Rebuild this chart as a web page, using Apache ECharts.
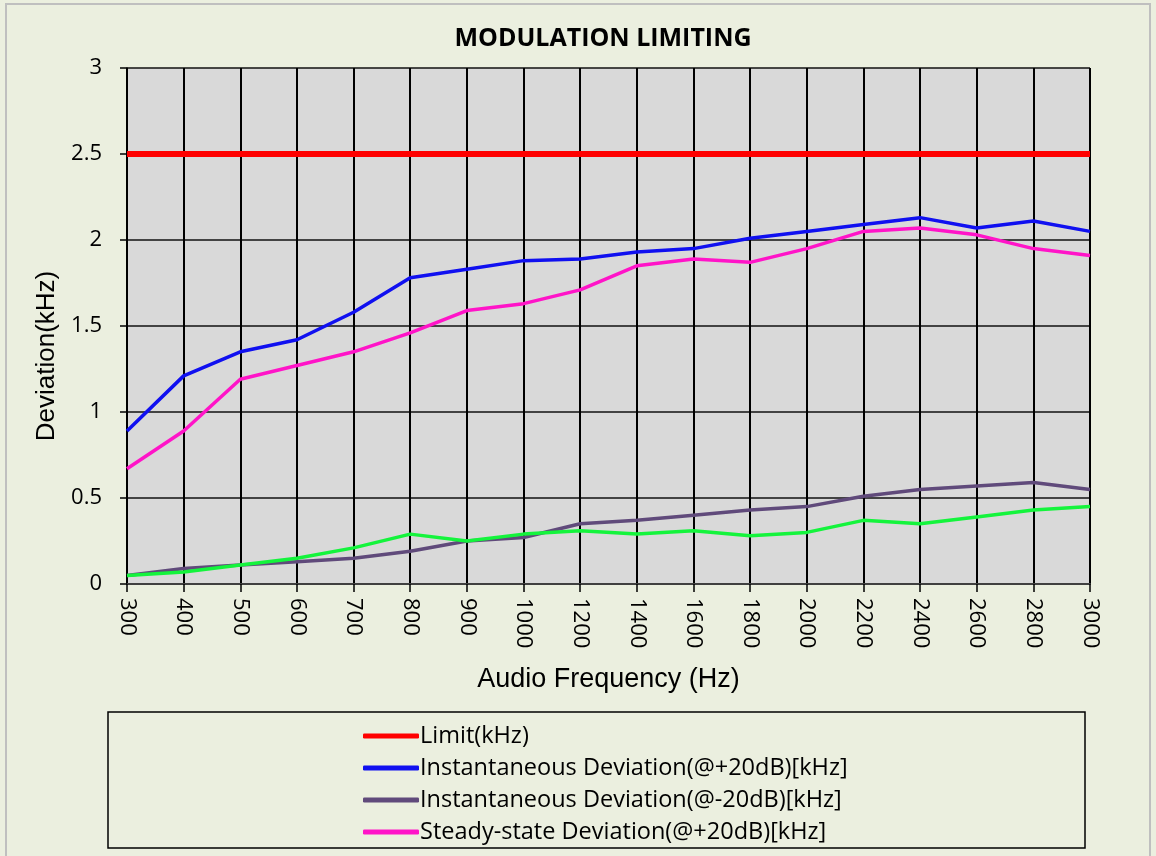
<!DOCTYPE html>
<html>
<head>
<meta charset="utf-8">
<script src="https://cdn.jsdelivr.net/npm/echarts@6/dist/echarts.min.js"></script>
<style>
  html, body { margin: 0; padding: 0; background: #ebefdf; }
  #main { width: 1156px; height: 856px; }
</style>
</head>
<body>
<div id="main"></div>
<script>
// audio frequencies (Hz)
var freqs = ['300', '400', '500', '600', '700', '800', '900', '1000', '1200', '1400',
  '1600', '1800', '2000', '2200', '2400', '2600', '2800', '3000'];

var limit = [2.5, 2.5, 2.5, 2.5, 2.5, 2.5, 2.5, 2.5, 2.5, 2.5, 2.5, 2.5, 2.5, 2.5, 2.5, 2.5, 2.5, 2.5];
var instPlus20 = [0.89, 1.21, 1.35, 1.42, 1.58, 1.78, 1.83, 1.88, 1.89, 1.93, 1.95, 2.01, 2.05, 2.09, 2.13, 2.07, 2.11, 2.05];
var instMinus20 = [0.05, 0.09, 0.11, 0.13, 0.15, 0.19, 0.25, 0.27, 0.35, 0.37, 0.40, 0.43, 0.45, 0.51, 0.55, 0.57, 0.59, 0.55];
var steadyPlus20 = [0.67, 0.89, 1.19, 1.27, 1.35, 1.46, 1.59, 1.63, 1.71, 1.85, 1.89, 1.87, 1.95, 2.05, 2.07, 2.03, 1.95, 1.91];
// green trace, not listed in the legend
var steadyMinus20 = [0.05, 0.07, 0.11, 0.15, 0.21, 0.29, 0.25, 0.29, 0.31, 0.29, 0.31, 0.28, 0.30, 0.37, 0.35, 0.39, 0.43, 0.45];

var names = ['Limit(kHz)', 'Instantaneous Deviation(@+20dB)[kHz]',
  'Instantaneous Deviation(@-20dB)[kHz]', 'Steady-state Deviation(@+20dB)[kHz]'];

var chart = echarts.init(document.getElementById('main'));

function line(name, data, color, width) {
  return {
    name: name,
    type: 'line',
    data: data,
    symbol: 'none',
    color: color,
    lineStyle: { color: color, width: width },
    emphasis: { disabled: true }
  };
}

var option = {
  backgroundColor: '#ebefdf',
  animation: false,
  title: {
    text: 'MODULATION LIMITING',
    left: 598,
    top: 21,
    textAlign: 'center',
    textStyle: { fontFamily: 'Open Sans', fontWeight: 'bold', fontSize: 25, color: '#000' }
  },
  graphic: [
    {
      type: 'rect', z: -10,
      shape: { x: 6, y: 4, width: 1144, height: 860 },
      style: { fill: 'none', stroke: '#bfbfbf', lineWidth: 2 }
    },
    {
      type: 'rect', z: -10,
      shape: { x: 108, y: 712, width: 977, height: 136 },
      style: { fill: 'none', stroke: '#000', lineWidth: 1.5 }
    }
  ],
  legend: {
    data: names,
    orient: 'vertical',
    left: 358,
    top: 719,
    icon: 'roundRect',
    itemWidth: 56,
    itemHeight: 5,
    itemGap: 8,
    textStyle: { fontFamily: 'Open Sans', fontSize: 23.5, color: '#000', padding: [0, 0, 0, -4] },
    selectedMode: false
  },
  grid: {
    left: 127, right: 66, top: 68, height: 516
  },
  xAxis: {
    type: 'category',
    data: freqs,
    boundaryGap: false,
    name: 'Audio Frequency (Hz)',
    nameLocation: 'middle',
    nameGap: 82,
    nameTextStyle: { fontFamily: 'Liberation Sans', fontSize: 27, color: '#000' },
    axisLine: { lineStyle: { color: '#404040', width: 2 } },
    axisTick: { show: true, length: 8, alignWithLabel: true, lineStyle: { color: '#000', width: 1.5 } },
    axisLabel: { rotate: -90, fontFamily: 'Open Sans', fontSize: 22, color: '#000', margin: 14, interval: 0 },
    splitLine: { show: true, lineStyle: { color: '#000', width: 2 } }
  },
  yAxis: {
    type: 'value',
    min: 0, max: 3, interval: 0.5,
    name: 'Deviation(kHz)',
    nameLocation: 'middle',
    nameGap: 64,
    nameTextStyle: { fontFamily: 'Liberation Sans', fontSize: 26, color: '#000', padding: [0, 0, 0, -60] },
    axisLine: { show: true, lineStyle: { color: '#000', width: 1.5 } },
    axisTick: { show: true, length: 7, lineStyle: { color: '#000', width: 1.5 } },
    axisLabel: { fontFamily: 'Open Sans', fontSize: 22, color: '#000', margin: 25 },
    splitLine: { show: true, lineStyle: { color: '#111', width: 1.5 } },
    splitArea: { show: true, areaStyle: { color: ['#d9d9d9', '#d9d9d9'] } }
  },
  series: [
    line(names[0], limit, '#ff0000', 6),
    line(names[1], instPlus20, '#1010f0', 3.5),
    line(names[2], instMinus20, '#604a7b', 3.5),
    line(names[3], steadyPlus20, '#ff14c8', 3.5),
    line('Steady-state Deviation(@-20dB)[kHz]', steadyMinus20, '#14f43c', 3.5)
  ]
};

chart.setOption(option);
</script>
</body>
</html>
